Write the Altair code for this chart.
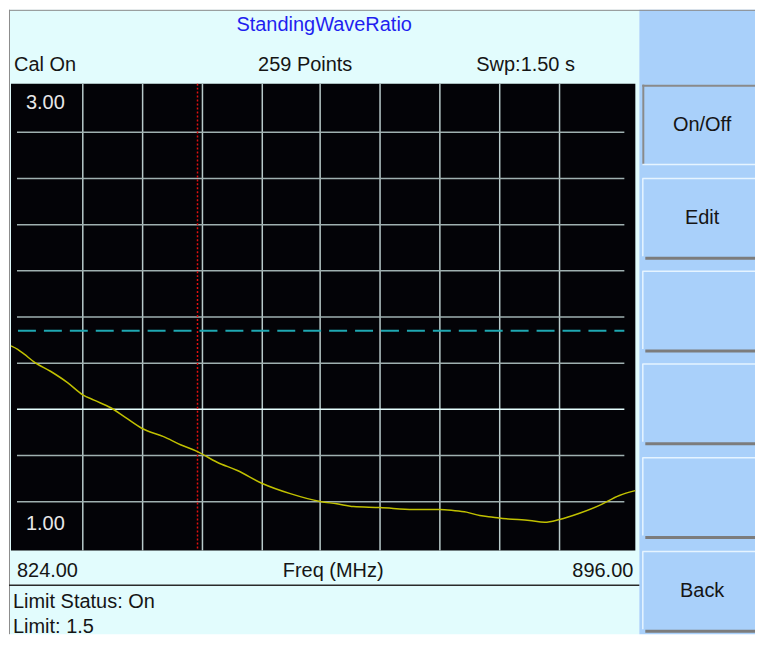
import altair as alt
import pandas as pd

# ---------------- data ----------------
FREQ = [824.00, 824.77, 825.53, 826.65, 828.60, 830.52, 832.28, 833.58, 835.50,
        837.23, 839.18, 841.60, 843.55, 845.51, 847.77, 850.11, 852.98, 856.21,
        859.66, 861.58, 863.49, 866.56, 870.39, 873.46, 874.99, 876.53, 878.06,
        879.59, 881.13, 883.81, 885.54, 887.26, 889.56, 891.86, 894.16, 896.00]
SWR = [1.875, 1.860, 1.839, 1.806, 1.764, 1.716, 1.663, 1.640, 1.607,
       1.564, 1.516, 1.482, 1.447, 1.417, 1.371, 1.335, 1.279, 1.235,
       1.201, 1.191, 1.179, 1.175, 1.166, 1.166, 1.162, 1.155, 1.140,
       1.133, 1.126, 1.119, 1.111, 1.123, 1.150, 1.184, 1.227, 1.248]
GRID_FREQ = [832.28, 839.18, 846.08, 852.98, 859.65, 866.56, 873.46, 880.36, 887.26]
GRID_SWR = [1.2, 1.4, 1.8, 2.0, 2.2, 2.4, 2.6, 2.8]
GRID_SWR_BRIGHT = [1.6]
LIMIT_LINE = [1.94]
MARKER_FREQ = [845.51]
TITLE = "StandingWaveRatio"
HEADER = ["Cal On", "259 Points", "Swp:1.50 s"]
Y_LABELS = ["3.00", "1.00"]
X_LABELS = ["824.00", "Freq (MHz)", "896.00"]
STATUS = ["Limit Status: On", "Limit: 1.5"]
BUTTONS = ["On/Off", "Edit", "", "", "", "Back"]

# ---------------- layout (page pixels) ----------------
OX, OY = 10, 82          # plot area origin on the page
W, H = 626, 468
FONT = "Liberation Sans"
RIGHT = 756              # right edge of the button panel
BOTTOM = 634             # bottom edge of the panels


def px(x):
    return x - OX


def py(y):
    return y - OY


dummy = pd.DataFrame({"a": [0]})


def box(x1, y1, x2, y2, color):
    return alt.Chart(dummy).mark_rect(color=color).encode(
        x=alt.value(px(x1)), x2=alt.value(px(x2)),
        y=alt.value(py(y1)), y2=alt.value(py(y2)))


def seg(x1, y1, x2, y2, color, width):
    return alt.Chart(dummy).mark_rule(color=color, strokeWidth=width).encode(
        x=alt.value(px(x1)), x2=alt.value(px(x2)),
        y=alt.value(py(y1)), y2=alt.value(py(y2)))


def label(text, x, y, align="left", color="#151515", size=20):
    return alt.Chart(dummy).mark_text(
        text=text, align=align, baseline="middle", font=FONT,
        fontSize=size, color=color).encode(
        x=alt.value(px(x)), y=alt.value(py(y)))


xs = alt.Scale(domain=[824, 896], nice=False, zero=False)
ys = alt.Scale(domain=[1 - 2.5 / 231.5, 3 + 2.5 / 231.5], nice=False, zero=False)

layers = []
# panels
layers.append(box(8, 8, 640, BOTTOM, "#e2fcfd"))
layers.append(box(640, 8, RIGHT, BOTTOM, "#a9d0fa"))
layers.append(seg(8, 8.5, RIGHT, 8.5, "#8c8c8c", 1))
layers.append(seg(8.5, 8, 8.5, BOTTOM, "#8c8c8c", 1))
# plot background
layers.append(box(10, 82, 636, 550, "#030307"))

# grid
trace_df = pd.DataFrame({"freq": FREQ, "swr": SWR})
layers.append(alt.Chart(pd.DataFrame({"f": GRID_FREQ})).mark_rule(
    color="#b8caca", strokeWidth=1.5).encode(
    x=alt.X("f:Q", scale=xs, axis=None),
    y=alt.value(0), y2=alt.value(H)))
layers.append(alt.Chart(pd.DataFrame({"s": GRID_SWR})).mark_rule(
    color="#9fb0b0", strokeWidth=1.5).encode(
    y=alt.Y("s:Q", scale=ys, axis=None),
    x=alt.value(px(16)), x2=alt.value(px(625))))
layers.append(alt.Chart(pd.DataFrame({"s": GRID_SWR_BRIGHT})).mark_rule(
    color="#e6ffff", strokeWidth=1.5).encode(
    y=alt.Y("s:Q", scale=ys, axis=None),
    x=alt.value(px(16)), x2=alt.value(px(625))))
# limit line
layers.append(alt.Chart(pd.DataFrame({"s": LIMIT_LINE})).mark_rule(
    color="#1fa8b2", strokeWidth=2, strokeDash=[18, 8]).encode(
    y=alt.Y("s:Q", scale=ys, axis=None),
    x=alt.value(px(17)), x2=alt.value(px(625))))
# marker
layers.append(alt.Chart(pd.DataFrame({"f": MARKER_FREQ})).mark_rule(
    color="#e01010", strokeWidth=1.5, strokeDash=[2, 2]).encode(
    x=alt.X("f:Q", scale=xs, axis=None),
    y=alt.value(0), y2=alt.value(H)))
# trace
layers.append(alt.Chart(trace_df).mark_line(
    color="#c0c000", strokeWidth=1.5, interpolate="monotone").encode(
    x=alt.X("freq:Q", scale=xs, axis=None),
    y=alt.Y("swr:Q", scale=ys, axis=None)))

# texts
layers.append(label(TITLE, 324, 23, "center", "#1f1ff0"))
layers.append(label(HEADER[0], 13, 63))
layers.append(label(HEADER[1], 305, 63, "center"))
layers.append(label(HEADER[2], 526, 63, "center"))
layers.append(label(Y_LABELS[0], 25, 101, color="#e8e8e8"))
layers.append(label(Y_LABELS[1], 25, 524, color="#e8e8e8"))
layers.append(label(X_LABELS[0], 16, 571))
layers.append(label(X_LABELS[1], 333, 571, "center"))
layers.append(label(X_LABELS[2], 634, 571, "right"))
layers.append(seg(8, 585, 640, 585, "#2a2a2a", 1.5))
layers.append(label(STATUS[0], 12, 602))
layers.append(label(STATUS[1], 12, 627))

# buttons
TOPS = [83, 177, 270, 363, 457, 551]
BOTTOMS = [163, 257, 350, 443, 537, 631]
for i, (name, t, b) in enumerate(zip(BUTTONS, TOPS, BOTTOMS)):
    if i == 0:
        layers.append(seg(643, t + 1, RIGHT, t + 1, "#8a8a8a", 2))
        layers.append(seg(644, t, 644, b, "#8a8a8a", 2))
        layers.append(seg(643, b, RIGHT, b, "#e6f4ff", 1.5))
    else:
        layers.append(seg(643, t, RIGHT, t, "#e6f4ff", 1.5))
        layers.append(seg(643.5, t, 643.5, b - 2, "#e6f4ff", 1.5))
        layers.append(seg(646, b, RIGHT, b, "#7c7c7c", 3))
    if name:
        layers.append(label(name, 703, (t + b) / 2, "center"))

chart = alt.layer(*layers).properties(
    width=W, height=H, padding=0
).configure_view(stroke=None)

chart.save("out.html", embed_options={"renderer": "svg", "actions": False})
